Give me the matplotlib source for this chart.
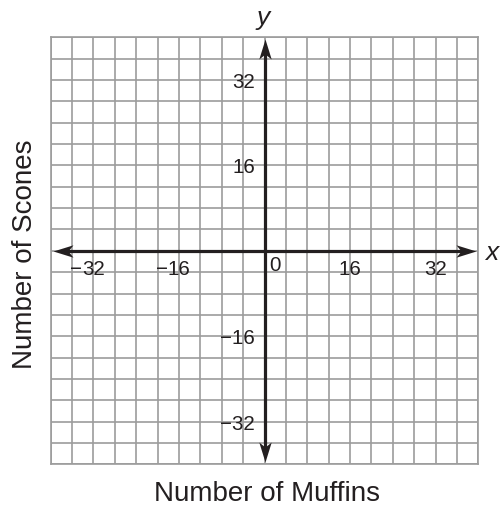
import matplotlib
matplotlib.use('Agg')
import matplotlib.pyplot as plt
from matplotlib.path import Path
from matplotlib.transforms import offset_copy
import numpy as np

# ---- data ----
x_ticks = [-32, -16, 16, 32]
y_ticks = [-32, -16, 16, 32]
grid_step = 4
axis_limit = 40
x_title = "Number of Muffins"
y_title = "Number of Scones"
x_var = "x"
y_var = "y"

plt.rcParams['font.family'] = ['Liberation Sans', 'DejaVu Sans']

W, H = 504, 506
fig = plt.figure(figsize=(W / 100, H / 100), dpi=100)
ax = fig.add_axes([50.7 / W, 40.7 / H, 427.6 / W, 427.0 / H])
ax.set_xlim(-axis_limit, axis_limit)
ax.set_ylim(-axis_limit, axis_limit)
grid = np.arange(-axis_limit, axis_limit + 1, grid_step)
ax.set_xticks(grid)
ax.set_yticks(grid)
ax.grid(True, color='#9c9c9c', lw=1.2)
ax.set_axisbelow(True)
ax.tick_params(length=0, labelbottom=False, labelleft=False)
for s in ax.spines.values():
    s.set_color('#9c9c9c')
    s.set_linewidth(1.2)

axis_color = '#231f20'
tip = axis_limit - 0.4
ax.plot([-tip + 2, tip - 2], [0, 0], color=axis_color, lw=2.3, solid_capstyle='butt', zorder=3)
ax.plot([0, 0], [-tip + 2, tip - 2], color=axis_color, lw=2.3, solid_capstyle='butt', zorder=3)

# arrowhead marker (tip at origin, pointing right)
base = np.array([[0, 0], [-1, 0.31], [-0.75, 0], [-1, -0.31], [0, 0]])
codes = [Path.MOVETO, Path.LINETO, Path.LINETO, Path.LINETO, Path.CLOSEPOLY]
def rot(v, ang):
    a = np.deg2rad(ang)
    R = np.array([[np.cos(a), -np.sin(a)], [np.sin(a), np.cos(a)]])
    return v @ R.T
for (px, py, ang) in [(tip, 0, 0), (-tip, 0, 180), (0, tip, 90), (0, -tip, 270)]:
    m = Path(rot(base, ang), codes)
    ax.plot([px], [py], marker=m, markersize=28.8, color=axis_color,
            markeredgewidth=0, linestyle='none', zorder=4, clip_on=False)

fs_tick = 14.8
fig.canvas.draw()
renderer = fig.canvas.get_renderer()

# x tick labels: digits centred on tick, minus hanging left
for v in x_ticks:
    t = ax.text(v, 0, str(abs(v)), ha='center', va='top', fontsize=fs_tick,
                color=axis_color,
                transform=offset_copy(ax.transData, fig, y=-8, units='dots'))
    if v < 0:
        bb = t.get_window_extent(renderer)
        inv = ax.transData.inverted()
        xl = inv.transform((bb.x0, bb.y1))[0]
        ax.text(xl, 0, '\u2212', ha='right', va='top', fontsize=fs_tick,
                color=axis_color,
                transform=offset_copy(ax.transData, fig, y=-8, units='dots'))

# zero label
ax.text(0, 0, '0', ha='left', va='top', fontsize=fs_tick, color=axis_color,
        transform=offset_copy(ax.transData, fig, x=5, y=-4, units='dots'))

# y tick labels
for v in y_ticks:
    lab = ('\u2212' if v < 0 else '') + str(abs(v))
    ax.text(0, v, lab, ha='right', va='center', fontsize=fs_tick, color=axis_color,
            transform=offset_copy(ax.transData, fig, x=-9.5, y=-1.5, units='dots'))

# axis variable names
ax.text(0, axis_limit, y_var, ha='center', va='baseline', fontsize=19, style='italic',
        color=axis_color,
        transform=offset_copy(ax.transData, fig, x=-1, y=13, units='dots'), clip_on=False)
ax.text(axis_limit, 0, x_var, ha='left', va='baseline', fontsize=19, style='italic',
        color=axis_color,
        transform=offset_copy(ax.transData, fig, x=7, y=-8, units='dots'), clip_on=False)

# titles
fig.text(266.7 / W, 1 - 501 / H, x_title, ha='center', va='baseline', fontsize=20,
         color=axis_color)
fig.text(31.7 / W, 1 - 254 / H, y_title, ha='center', va='baseline', fontsize=20,
         rotation=90, rotation_mode='anchor', color=axis_color)

fig.savefig('out.png', dpi=100)
